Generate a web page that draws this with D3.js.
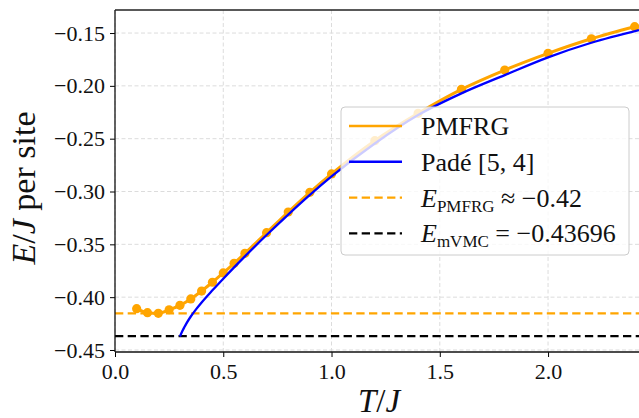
<!DOCTYPE html>
<html>
<head>
<meta charset="utf-8">
<script src="https://cdn.jsdelivr.net/npm/d3@7"></script>
<style>
  body { margin: 0; background: #fff; }
  svg { display: block; font-family: "Liberation Serif", "DejaVu Serif", serif; }
</style>
</head>
<body>
<svg id="chart" width="639" height="418"></svg>
<script>
// PMFRG energy per site vs temperature
const pmfrgT = [0.1, 0.15, 0.2, 0.25, 0.3, 0.35, 0.4, 0.45, 0.5, 0.55, 0.6,
  0.7, 0.8, 0.9, 1.0, 1.2, 1.4, 1.6, 1.8, 2.0, 2.2, 2.4];
const pmfrgE = [-0.4109, -0.4147, -0.4153, -0.4119, -0.4077, -0.4017, -0.3942, -0.3859,
  -0.3771, -0.3680, -0.3585, -0.3390, -0.3194, -0.3008, -0.2834, -0.2519, -0.2260,
  -0.2033, -0.1850, -0.1692, -0.1554, -0.1440];

// Padé [5, 4] approximant
const padeT = [0.30, 0.31, 0.32, 0.33, 0.35, 0.375, 0.40, 0.45, 0.5, 0.55, 0.6, 0.7,
  0.8, 0.9, 1.0, 1.2, 1.4, 1.6, 1.8, 2.0, 2.2, 2.42];
const padeE = [-0.4372, -0.4325, -0.4285, -0.4248, -0.4183, -0.4113, -0.4050, -0.3935,
  -0.3825, -0.3718, -0.3614, -0.3412, -0.3218, -0.3032, -0.2857, -0.2545, -0.2276,
  -0.2071, -0.1898, -0.1730, -0.1592, -0.1472];

const ePmfrg = -0.4153;
const eVmc = -0.43696;

const xTicks = [0.0, 0.5, 1.0, 1.5, 2.0];
const yTicks = [-0.45, -0.40, -0.35, -0.30, -0.25, -0.20, -0.15];

const svg = d3.select("#chart");
const mLeft = 115, mRight = 639, mTop = 10, mBottom = 352;

const x = d3.scaleLinear().domain([0, 2.42]).range([mLeft, mRight]);
const y = d3.scaleLinear().domain([-0.4519, -0.1282]).range([mBottom, mTop]);

const fmtMinus = (v, n) => {
  const s = Math.abs(v).toFixed(n);
  return v < 0 ? "\u2212" + s : s;
};

// grid
const grid = svg.append("g").attr("stroke", "#dcdcdc").attr("stroke-width", 1)
  .attr("stroke-dasharray", "4,2.5");
grid.selectAll(".gx").data(xTicks).join("line")
  .attr("x1", d => x(d)).attr("x2", d => x(d)).attr("y1", mTop).attr("y2", mBottom);
grid.selectAll(".gy").data(yTicks).join("line")
  .attr("x1", mLeft).attr("x2", mRight).attr("y1", d => y(d)).attr("y2", d => y(d));

svg.append("clipPath").attr("id", "plotclip")
  .append("rect").attr("x", mLeft).attr("y", mTop)
  .attr("width", mRight - mLeft).attr("height", mBottom - mTop);

const plot = svg.append("g").attr("clip-path", "url(#plotclip)");

const pmfrg = pmfrgT.map((t, i) => [t, pmfrgE[i]]);
const pade = padeT.map((t, i) => [t, padeE[i]]);

const line = d3.line().x(d => x(d[0])).y(d => y(d[1])).curve(d3.curveMonotoneX);

// PMFRG line and markers
plot.append("path").datum(pmfrg).attr("d", line)
  .attr("fill", "none").attr("stroke", "orange").attr("stroke-width", 3);
plot.selectAll("circle.pm").data(pmfrg).join("circle")
  .attr("class", "pm")
  .attr("cx", d => x(d[0])).attr("cy", d => y(d[1])).attr("r", 4.6)
  .attr("fill", "orange");

// reference energies
plot.append("line").attr("x1", mLeft).attr("x2", mRight)
  .attr("y1", y(ePmfrg)).attr("y2", y(ePmfrg))
  .attr("stroke", "orange").attr("stroke-width", 2.2).attr("stroke-dasharray", "8.3,4.4");
plot.append("line").attr("x1", mLeft).attr("x2", mRight)
  .attr("y1", y(eVmc)).attr("y2", y(eVmc))
  .attr("stroke", "black").attr("stroke-width", 2.2).attr("stroke-dasharray", "8.3,4.4");

// Padé curve
plot.append("path").datum(pade).attr("d", line)
  .attr("fill", "none").attr("stroke", "#0000ff").attr("stroke-width", 2.3);

// axes
const xAxis = d3.axisBottom(x).tickValues(xTicks).tickSize(5).tickPadding(6)
  .tickFormat(d => d.toFixed(1));
const gx = svg.append("g").attr("transform", `translate(0,${mBottom})`).call(xAxis);
const yAxis = d3.axisLeft(y).tickValues(yTicks).tickSize(5).tickPadding(5)
  .tickFormat(d => fmtMinus(d, 2));
const gy = svg.append("g").attr("transform", `translate(${mLeft},0)`).call(yAxis);

[gx, gy].forEach(g => {
  g.select(".domain").remove();
  g.selectAll(".tick line").attr("stroke", "#000").attr("stroke-width", 1);
  g.selectAll(".tick text").attr("font-family", "Liberation Serif, serif")
    .attr("font-size", 22).attr("fill", "#111");
});
gx.selectAll(".tick text").attr("dy", "0.74em");

// spines
svg.append("line").attr("x1", mLeft).attr("x2", mLeft).attr("y1", mTop).attr("y2", mBottom)
  .attr("stroke", "#111").attr("stroke-width", 1.3);
svg.append("line").attr("x1", mLeft).attr("x2", mRight).attr("y1", mTop).attr("y2", mTop)
  .attr("stroke", "#222").attr("stroke-width", 1.3);
svg.append("line").attr("x1", mLeft).attr("x2", mRight).attr("y1", mBottom).attr("y2", mBottom)
  .attr("stroke", "#111").attr("stroke-width", 1.3);

// axis labels
const xl = svg.append("text").attr("x", 379).attr("y", 412)
  .attr("text-anchor", "middle").attr("font-size", 33).attr("fill", "#111");
xl.append("tspan").attr("font-style", "italic").text("T");
xl.append("tspan").text("/");
xl.append("tspan").attr("font-style", "italic").text("J");

const yl = svg.append("text").attr("transform", "translate(35,188) rotate(-90)")
  .attr("text-anchor", "middle").attr("font-size", 34).attr("fill", "#111");
yl.append("tspan").attr("font-style", "italic").text("E");
yl.append("tspan").text("/");
yl.append("tspan").attr("font-style", "italic").text("J");
yl.append("tspan").text(" per site");

// legend
const lg = svg.append("g");
lg.append("rect").attr("x", 341).attr("y", 107).attr("width", 288).attr("height", 148)
  .attr("rx", 4).attr("fill", "#fff").attr("fill-opacity", 0.8)
  .attr("stroke", "#cccccc").attr("stroke-width", 1);

const legendItems = [
  { color: "orange", dash: null, label: "PMFRG" },
  { color: "#0000ff", dash: null, label: "Padé [5, 4]" },
  { color: "orange", dash: "8.3,4.4", sub: "PMFRG", rest: " \u2248 \u22120.42" },
  { color: "black", dash: "8.3,4.4", sub: "mVMC", rest: " = \u22120.43696" }
];

legendItems.forEach((d, i) => {
  const base = 135 + i * 35.8;
  lg.append("line").attr("x1", 349).attr("x2", 402)
    .attr("y1", base - 9).attr("y2", base - 9)
    .attr("stroke", d.color).attr("stroke-width", i < 2 ? 2.6 : 2.2)
    .attr("stroke-dasharray", d.dash);
  const t = lg.append("text").attr("x", 421).attr("y", base)
    .attr("font-size", 26).attr("fill", "#111");
  if (d.label) {
    t.text(d.label);
  } else {
    t.append("tspan").attr("font-style", "italic").text("E");
    t.append("tspan").attr("font-size", 17).attr("dy", 5).text(d.sub);
    t.append("tspan").attr("dy", -5).text(d.rest);
  }
});
</script>
</body>
</html>
